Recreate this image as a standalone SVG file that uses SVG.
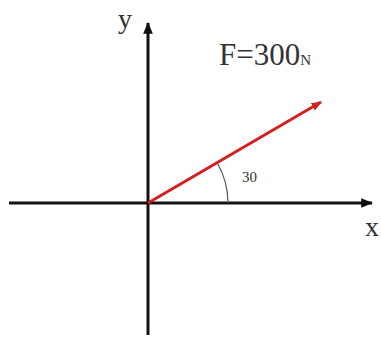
<svg xmlns="http://www.w3.org/2000/svg" width="381" height="338" viewBox="0 0 381 338">
<style>
.ax{stroke:#111;stroke-width:3;fill:none}
.t{font-family:"Liberation Serif",serif;fill:#333}
</style>
<defs>
<marker id="ah" viewBox="0 0 10 10" refX="9" refY="5" markerWidth="4" markerHeight="4" orient="auto" markerUnits="strokeWidth"><path d="M0,1 L10,5 L0,9 z" fill="#111"/></marker>
<marker id="ahr" viewBox="0 0 10 10" refX="9" refY="5" markerWidth="3.5" markerHeight="3.5" orient="auto" markerUnits="strokeWidth"><path d="M0,1 L10,5 L0,9 z" fill="#d42020"/></marker>
</defs>
<rect width="381" height="338" fill="#fff"/>
<g id="connectors">
<line class="ax" x1="9" y1="203" x2="372" y2="203" marker-end="url(#ah)"/>
<line class="ax" x1="148" y1="335" x2="148" y2="23" marker-end="url(#ah)"/>
<line x1="148" y1="203" x2="321" y2="102" stroke="#d42020" stroke-width="3" marker-end="url(#ahr)"/>
<path d="M228,203 A80,80 0 0 0 217.3,163" stroke="#555" stroke-width="1.2" fill="none"/>
</g>
<g id="labels">
<text class="t" x="118" y="28" font-size="28">y</text>
<text class="t" x="365" y="236" font-size="28">x</text>
<text class="t" x="219" y="65" font-size="31">F=300<tspan font-size="15">N</tspan></text>
<text class="t" x="242" y="182" font-size="15" fill="#222">30</text>
</g>
</svg>
